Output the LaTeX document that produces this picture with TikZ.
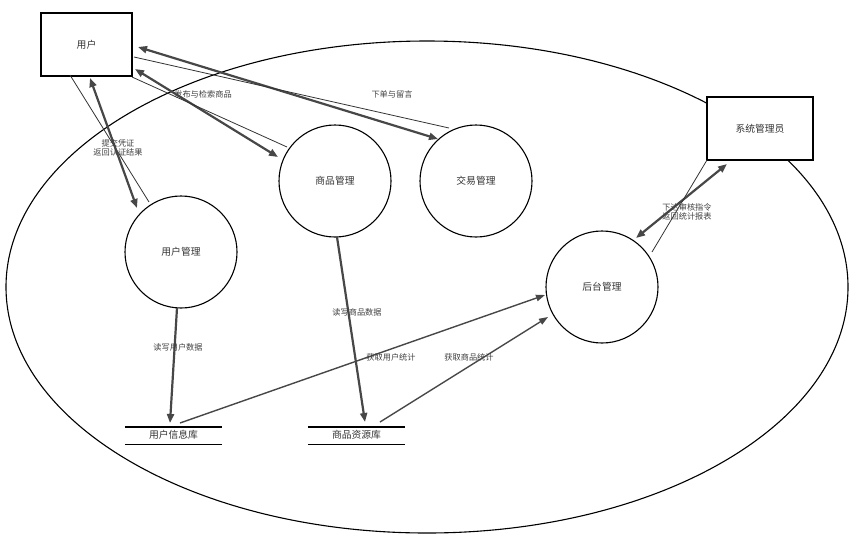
\documentclass[tikz,border=0pt]{standalone}
\usepackage{fontspec}
\setmainfont{Noto Sans CJK SC}
\usetikzlibrary{arrows.meta,calc}
\begin{document}
\begin{tikzpicture}[x=1pt,y=-1pt,
  proc/.style={circle,draw=black,line width=1.1pt,minimum size=112pt,inner sep=0pt,font=\fontsize{9.8}{11}\selectfont,text=black!80},
  ent/.style={rectangle,draw=black,line width=1.1pt,fill=white,font=\fontsize{9.8}{11}\selectfont,text=black!80},
  store/.style={rectangle,minimum width=97pt,minimum height=17pt,inner sep=0pt,font=\fontsize{9.8}{11}\selectfont,text=black!80},
  lbl/.style={font=\fontsize{8.2}{9.5}\selectfont,text=black!75,align=center,inner sep=0pt},
  thick2/.style={draw=black!72,line width=2.2pt,{Triangle[length=9pt,width=7pt]}-{Triangle[length=9pt,width=7pt]}},
  thick1/.style={draw=black!72,line width=2.2pt,-{Triangle[length=9pt,width=7pt]}},
  thinl/.style={draw=black!80,line width=0.8pt},
  meda/.style={draw=black!72,line width=1.4pt,-{Triangle[length=9pt,width=6.5pt]}},
  storeline/.style={draw=black,line width=1.4pt}]
\useasboundingbox (0,0) rectangle (864,539);
\draw[line width=1.1pt] (427,287) ellipse [x radius=421, y radius=246];

\node[ent,minimum width=91pt,minimum height=63pt] (user) at (86.5,44.5) {用户};
\node[ent,minimum width=106pt,minimum height=63pt] (admin) at (760,128.5) {系统管理员};
\node[proc] (um) at (181,252) {用户管理};
\node[proc] (gm) at (335,181) {商品管理};
\node[proc] (jm) at (476,181) {交易管理};
\node[proc] (ht) at (602,287) {后台管理};
\node[store] (udb) at (173.5,435.5) {\raisebox{2pt}{用户信息库}};
\node[store] (gdb) at (356.5,435.5) {\raisebox{2pt}{商品资源库}};
\draw[storeline] (udb.north west) -- (udb.north east);
\draw[storeline] (udb.south west) -- (udb.south east);
\draw[storeline] (gdb.north west) -- (gdb.north east);
\draw[storeline] (gdb.south west) -- (gdb.south east);

% user <-> user management
\draw[thinl] ($(user.center)+(-16.5,30.5)$) -- ($(um.center)+(-32,-50)$);
\draw[thick2] ($(user.center)+(3.5,33.5)$) -- ($(um.center)+(-44,-44)$);
% user <-> goods management
\draw[thick2] ($(user.center)+(48.5,24.5)$) -- ($(gm.center)+(-57,-24)$);
\draw[thinl] ($(user.center)+(45.5,32.5)$) -- ($(gm.center)+(-48,-34)$);
% user <-> trade management
\draw[thick2] ($(user.center)+(51.5,2.5)$) -- ($(jm.center)+(-38,-42)$);
\draw[thinl] ($(user.center)+(47.5,12.5)$) -- ($(jm.center)+(-27,-53)$);
% admin <-> backend
\draw[thick2] ($(admin.center)+(-33,35.5)$) -- ($(ht.center)+(34,-49)$);
\draw[thinl] ($(admin.center)+(-53,31.5)$) -- ($(ht.center)+(50,-35)$);
% data stores
\draw[thick1] ($(um.center)+(-4,56)$) -- ($(udb.center)+(-3.5,-12.5)$);
\draw[thick1] ($(gm.center)+(2,56)$) -- ($(gdb.center)+(8.5,-13.5)$);
\draw[meda] ($(udb.center)+(6.5,-12.5)$) -- ($(ht.center)+(-57,8)$);
\draw[meda] ($(gdb.center)+(23.5,-13.5)$) -- ($(ht.center)+(-54,30)$);

% labels
\node[lbl] (l1) at (118,148) {提交凭证\\返回认证结果};
\node[lbl] (l2) at (203,94) {发布与检索商品};
\node[lbl] (l3) at (392,94) {下单与留言};
\node[lbl] (l4) at (687,212) {下达审核指令\\返回统计报表};
\node[lbl] (l5) at (178,347) {读写用户数据};
\node[lbl] (l6) at (357,312) {读写商品数据};
\node[lbl] (l7) at (391,357) {获取用户统计};
\node[lbl] (l8) at (469,357) {获取商品统计};
\end{tikzpicture}
\end{document}
